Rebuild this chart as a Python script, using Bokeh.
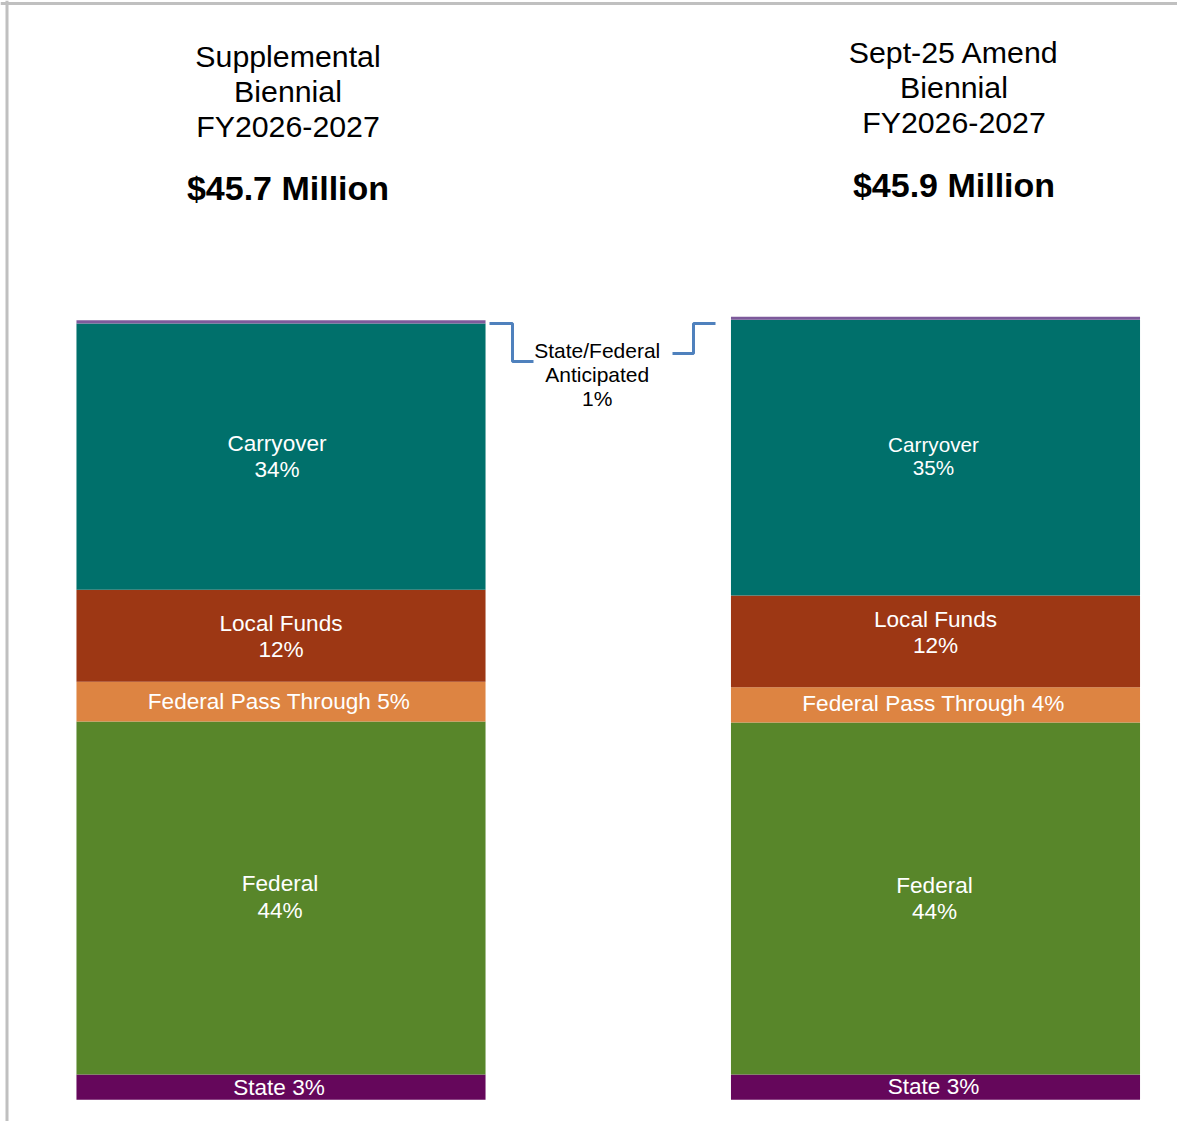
from bokeh.plotting import figure
from bokeh.models import ColumnDataSource, Span, Range1d
from bokeh.core.properties import value
from bokeh.embed import file_html
from bokeh.resources import INLINE
import numpy as np

# ---------------- data ----------------
scenarios = ["Supplemental", "Sept-25 Amend"]
title_lines = [["Supplemental", "Biennial", "FY2026-2027"],
               ["Sept-25 Amend", "Biennial", "FY2026-2027"]]
totals_text = ["$45.7 Million", "$45.9 Million"]
segments = ["State", "Federal", "Federal Pass Through", "Local Funds",
            "Carryover", "State/Federal Anticipated"]
# $ millions, bottom to top
supplemental = [1.48, 20.69, 2.34, 5.39, 15.61, 0.18]
sept25_amend = [1.48, 20.63, 2.07, 5.38, 16.16, 0.18]
supplemental_labels = ["State 3%", "Federal\n44%", "Federal Pass Through 5%",
                       "Local Funds\n12%", "Carryover\n34%", ""]
sept25_labels = ["State 3%", "Federal\n44%", "Federal Pass Through 4%",
                 "Local Funds\n12%", "Carryover\n35%", ""]
anticipated_label = "State/Federal\nAnticipated\n1%"

# ---------------- style ----------------
colors = ["#65075b", "#58862a", "#dd8442", "#9d3714", "#00706b", "#7d5a9b"]
label_sizes = [["22.6px"] * 6,
               ["22.6px", "22.6px", "22.6px", "22.6px", "20.7px", "22.6px"]]
label_lh = [[1.06] * 6, [1.06, 1.06, 1.06, 1.06, 1.0, 1.06]]
label_yoff = [[0, -1, 0, 1, 0, 0], [-1, 0, -1, -9, -2, 0]]
label_xoff = [[-2, -1, -2, 0, -4, 0], [-2, -1, -2, 0, -2, 0]]
FONT = value("Liberation Sans")
BAR_W = 0.625
title_dx = [7, 18.5]
title_dy = [-264, -229, -194]
amount_dy = -132

W, H = 1177, 1121
# pixel helpers (canvas pixels -> data) used only for decorations / ranges
PX_PER_X = 654.5
X0_PX = 280.5
PX_PER_M = 17.06
Y0_PX = 1099.3
def dx(px):
    return (px - X0_PX) / PX_PER_X
def dy(py):
    return (Y0_PX - py) / PX_PER_M

p = figure(width=W, height=H, output_backend="svg", toolbar_location=None,
           x_range=Range1d(dx(0), dx(W)), y_range=Range1d(dy(H), dy(0)),
           x_axis_location=None, y_axis_location=None, min_border=0,
           background_fill_color="white", border_fill_color="white")
p.grid.visible = False
p.outline_line_color = None

rows = dict(x=[], bottom=[], top=[], mid=[], color=[], label=[], fs=[], lh=[],
            yo=[], xo=[])
series = [supplemental, sept25_amend]
labels = [supplemental_labels, sept25_labels]
totals = []
for i, vals in enumerate(series):
    tops = np.cumsum(vals)
    bottoms = tops - np.array(vals)
    totals.append(float(tops[-1]))
    for j in range(len(vals)):
        rows["x"].append(i)
        rows["bottom"].append(float(bottoms[j]))
        rows["top"].append(float(tops[j]))
        rows["mid"].append(float((bottoms[j] + tops[j]) / 2))
        rows["color"].append(colors[j])
        rows["label"].append(labels[i][j])
        rows["fs"].append(label_sizes[i][j])
        rows["lh"].append(label_lh[i][j])
        rows["yo"].append(label_yoff[i][j])
        rows["xo"].append(label_xoff[i][j])
src = ColumnDataSource(rows)

p.vbar(x="x", bottom="bottom", top="top", width=BAR_W, fill_color="color",
       line_color=None, source=src)
p.text(x="x", y="mid", text="label", source=src, text_color="white",
       text_font=FONT, text_font_size="fs", text_align="center",
       text_baseline="middle", text_line_height="lh",
       x_offset="xo", y_offset="yo")

# titles
for i in range(2):
    for k, line in enumerate(title_lines[i]):
        p.text(x=[i], y=[totals[i]], text=[line], x_offset=title_dx[i],
               y_offset=title_dy[k], text_font=FONT, text_font_size="30.3px",
               text_color="black", text_align="center",
               text_baseline="alphabetic")
    p.text(x=[i], y=[totals[i]], text=[totals_text[i]], x_offset=title_dx[i],
           y_offset=amount_dy, text_font=FONT, text_font_size="34px",
           text_font_style="bold", text_color="black", text_align="center",
           text_baseline="alphabetic")

# anticipated callout
p.text(x=[0.5], y=[totals[0]], text=[anticipated_label], x_offset=-11,
       y_offset=54, text_font=FONT, text_font_size="21px", text_color="black",
       text_align="center", text_baseline="middle", text_line_height=1.03)
p.line(x=[dx(489), dx(512), dx(512), dx(533)],
       y=[dy(323), dy(323), dy(361), dy(361)],
       line_color="#4f81bd", line_width=3)
p.line(x=[dx(672), dx(693), dx(693), dx(715)],
       y=[dy(353), dy(353), dy(323), dy(323)],
       line_color="#4f81bd", line_width=3)

# frame border (left and top)
p.add_layout(Span(location=dx(6.5), dimension="height", line_color="#c0c0c0",
                  line_width=3))
p.add_layout(Span(location=dy(3), dimension="width", line_color="#c0c0c0",
                  line_width=3))

open("out.html", "w").write(file_html(p, INLINE))
